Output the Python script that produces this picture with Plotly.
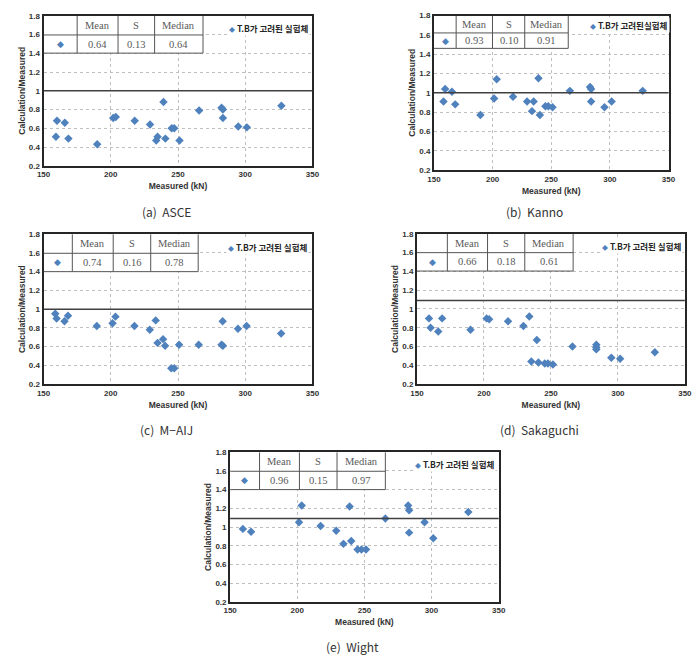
import plotly.graph_objects as go

# ---------------- data ----------------
A_x = [159.2, 160.0, 165.8, 168.5, 189.9, 201.8, 203.7, 217.8, 229.2, 233.8, 234.8, 239.2,
       240.6, 245.3, 247.2, 251.1, 265.7, 282.4, 283.4, 283.4, 294.8, 301.2, 326.9]
A_y = [0.51, 0.68, 0.66, 0.49, 0.43, 0.71, 0.72, 0.68, 0.64, 0.47, 0.51, 0.88,
       0.49, 0.60, 0.60, 0.47, 0.79, 0.82, 0.80, 0.71, 0.62, 0.61, 0.84]

B_x = [158.1, 159.5, 165.3, 168.1, 189.6, 201.3, 203.5, 217.4, 229.4, 233.6, 235.0, 239.1,
       240.3, 245.0, 247.5, 251.1, 265.9, 283.1, 284.0, 284.0, 295.4, 301.5, 328.0]
B_y = [0.91, 1.04, 1.01, 0.88, 0.77, 0.94, 1.14, 0.96, 0.91, 0.81, 0.91, 1.15,
       0.77, 0.86, 0.86, 0.85, 1.02, 1.06, 1.04, 0.91, 0.85, 0.91, 1.02]

C_x = [158.7, 159.7, 165.6, 168.2, 189.6, 201.3, 203.5, 217.6, 229.0, 233.4, 234.8, 238.9,
       240.4, 245.0, 247.2, 250.8, 265.4, 282.4, 283.2, 283.4, 294.6, 301.0, 326.7]
C_y = [0.95, 0.90, 0.87, 0.93, 0.82, 0.85, 0.92, 0.82, 0.78, 0.88, 0.64, 0.68,
       0.61, 0.37, 0.37, 0.62, 0.62, 0.62, 0.87, 0.61, 0.79, 0.82, 0.74]

D_x = [159.0, 160.2, 165.9, 168.8, 190.0, 202.0, 203.9, 218.0, 229.5, 233.9, 235.4, 239.5,
       240.7, 245.4, 247.8, 251.5, 266.1, 283.9, 283.9, 283.9, 295.1, 301.7, 327.6]
D_y = [0.90, 0.80, 0.76, 0.90, 0.78, 0.90, 0.89, 0.87, 0.82, 0.92, 0.44, 0.67,
       0.43, 0.42, 0.42, 0.41, 0.60, 0.62, 0.59, 0.57, 0.48, 0.47, 0.54]

E_x = [159.5, 165.6, 201.3, 203.3, 217.4, 229.0, 234.4, 239.0, 240.2, 244.9, 247.8, 251.2,
       265.6, 282.6, 283.3, 283.3, 294.8, 301.3, 327.4]
E_y = [0.98, 0.95, 1.05, 1.23, 1.01, 0.96, 0.82, 1.22, 0.85, 0.76, 0.76, 0.76,
       1.09, 1.23, 1.18, 0.94, 1.05, 0.88, 1.16]

captions = ["(a)  ASCE", "(b)  Kanno", "(c)  M\u2212AIJ", "(d)  Sakaguchi", "(e)  Wight"]
legend_names = ["T.B가 고려된 실험체", "T.B가 고려된실험체", "T.B가 고려된 실험체",
                "T.B가 고려된 실험체", "T.B가 고려된 실험체"]
stat_headers = ["Mean", "S", "Median"]
means = ["0.64", "0.93", "0.74", "0.66", "0.96"]
stdevs = ["0.13", "0.10", "0.16", "0.18", "0.15"]
medians = ["0.64", "0.91", "0.78", "0.61", "0.97"]
ref_lines = [1.0, 1.0, 1.0, 1.09, 1.09]
x_title = "Measured (kN)"
y_title = "Calculation/Measured"

xs = [A_x, B_x, C_x, D_x, E_x]
ys = [A_y, B_y, C_y, D_y, E_y]

# ---------------- layout geometry (pixels) ----------------
W, H = 700, 669
rects = [  # x0, x1, y0(top), y1(bottom)
    (37.3, 311.7, 12.0, 164.0),
    (435.7, 675.0, 11.7, 168.3),
    (37.3, 311.7, 233.3, 385.3),
    (418.3, 691.7, 233.0, 385.3),
    (227.7, 501.7, 454.3, 606.0),
]
caption_pos = [(163, 210), (538, 210), (163, 431), (543, 431), (353, 651.5)]
# table column / row boundaries in data units
table_cols = [
    [150, 175.0, 205.4, 232.6, 268.6],
    [150, 168.9, 199.9, 227.4, 264.5],
    [150, 171.4, 201.8, 229.7, 265.0],
    [150, 172.7, 202.7, 230.5, 266.6],
    [150, 171.9, 201.6, 229.6, 265.6],
]
table_rows = [
    [1.8, 1.596, 1.402],
    [1.8, 1.62, 1.46],
    [1.8, 1.596, 1.40],
    [1.8, 1.60, 1.404],
    [1.8, 1.596, 1.40],
]
legend_pos = [(286.5, 1.666), (281.5, 1.70), (285.7, 1.66), (287.0, 1.67), (286.2, 1.677)]

BLUE = "#4F81BD"
TXT = "#333333"
SANS = "Liberation Sans, Arial, sans-serif"
KR = "Noto Sans CJK KR, sans-serif"
SERIF = "Liberation Serif, Times New Roman, serif"

fig = go.Figure()
shapes = []
annotations = []
layout_axes = {}

for i in range(5):
    n = "" if i == 0 else str(i + 1)
    xa, ya = "x" + n, "y" + n
    x0, x1, yt, yb = rects[i]
    fig.add_trace(go.Scatter(
        x=xs[i], y=ys[i], mode="markers", xaxis=xa, yaxis=ya,
        name=legend_names[i], showlegend=False,
        marker=dict(symbol="diamond", size=6.5, color=BLUE),
        hovertemplate="%{x} kN<br>%{y}<extra></extra>",
    ))
    common = dict(
        showline=True, mirror=True, linecolor="#262626", linewidth=2,
        showgrid=True, gridcolor="#BFBFBF", griddash="dot", gridwidth=1,
        zeroline=False, ticks="", fixedrange=True,
        tickfont=dict(family=SANS, size=8, color=TXT, weight="bold"),
    )
    layout_axes["xaxis" + n] = dict(
        common, domain=[x0 / W, x1 / W], anchor=ya, range=[150, 350],
        tick0=150, dtick=50,
        title=dict(text=x_title, font=dict(family=SANS, size=8.5, color=TXT, weight="bold"),
                   standoff=5),
    )
    layout_axes["yaxis" + n] = dict(
        common, domain=[1 - yb / H, 1 - yt / H], anchor=xa, range=[0.2, 1.8],
        tick0=0.2, dtick=0.2,
        title=dict(text=y_title, font=dict(family=SANS, size=8.5, color=TXT, weight="bold"),
                   standoff=2),
    )

    # reference line
    shapes.append(dict(type="line", xref=xa + " domain", yref=ya, x0=0, x1=1,
                       y0=ref_lines[i], y1=ref_lines[i],
                       line=dict(color="#404040", width=1.5), layer="above"))

    # stats table
    cx = table_cols[i]
    ry = table_rows[i]
    shapes.append(dict(type="rect", xref=xa, yref=ya, x0=cx[0], x1=cx[4], y0=ry[2], y1=ry[0],
                       fillcolor="white", line=dict(width=0), layer="between"))
    for yy in ry[1:]:
        shapes.append(dict(type="line", xref=xa, yref=ya, x0=cx[0], x1=cx[4], y0=yy, y1=yy,
                           line=dict(color="#555555", width=1), layer="above"))
    for xx in cx[1:]:
        shapes.append(dict(type="line", xref=xa, yref=ya, x0=xx, x1=xx, y0=ry[2], y1=ry[0],
                           line=dict(color="#555555", width=1), layer="above"))
    row_vals = [means[i], stdevs[i], medians[i]]
    for c in range(3):
        xm = (cx[c + 1] + cx[c + 2]) / 2
        annotations.append(dict(xref=xa, yref=ya, x=xm, y=(ry[0] + ry[1]) / 2,
                                xanchor="center", yanchor="middle",
                                text=stat_headers[c], showarrow=False,
                                font=dict(family=SERIF, size=10.5, color="#595959")))
        annotations.append(dict(xref=xa, yref=ya, x=xm, y=(ry[1] + ry[2]) / 2,
                                xanchor="center", yanchor="middle",
                                text=row_vals[c], showarrow=False,
                                font=dict(family=SERIF, size=10.5, color="#595959")))
    annotations.append(dict(xref=xa, yref=ya, x=(cx[0] + cx[1]) / 2, y=(ry[1] + ry[2]) / 2,
                            xanchor="center", yanchor="middle",
                            text="\u25C6", showarrow=False,
                            font=dict(family="DejaVu Sans", size=9, color=BLUE)))

    # legend (series label)
    lx, ly = legend_pos[i]
    annotations.append(dict(
        xref=xa, yref=ya, x=lx, y=ly, xanchor="left", yanchor="middle",
        text='<span style="color:%s;font-size:6px">\u25C6</span> %s' % (BLUE, legend_names[i]),
        showarrow=False, bgcolor="white", borderpad=1,
        font=dict(family=KR, size=8.5, color="#262626", weight="bold")))

    # caption
    cxp, cyp = caption_pos[i]
    annotations.append(dict(xref="paper", yref="paper", x=cxp / W, y=1 - cyp / H,
                            xanchor="center", yanchor="middle",
                            text=captions[i], showarrow=False,
                            font=dict(family=KR, size=12, color="#333333")))

fig.update_layout(
    width=W, height=H, margin=dict(l=0, r=0, t=0, b=0),
    paper_bgcolor="white", plot_bgcolor="white",
    showlegend=False, shapes=shapes, annotations=annotations,
    **layout_axes,
)

fig.write_html("out.html", post_script="document.body.style.margin='0px';")
